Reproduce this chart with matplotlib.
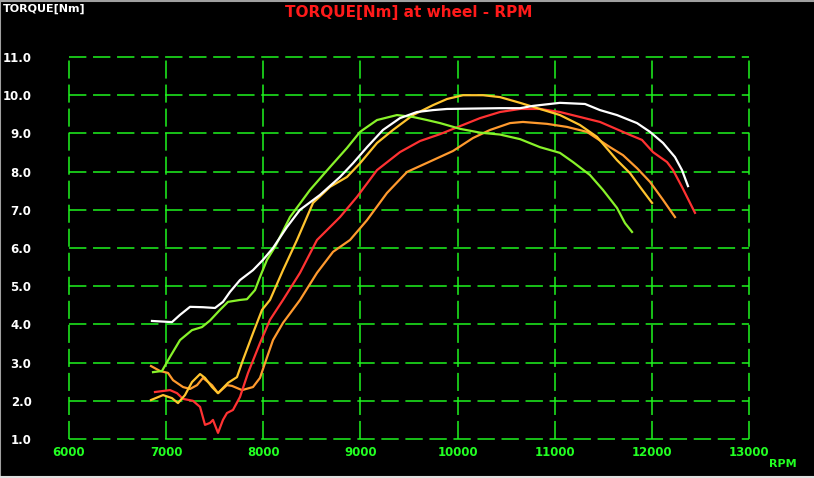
import matplotlib
matplotlib.use("Agg")
import matplotlib.pyplot as plt
from matplotlib.lines import Line2D

# Data (rpm, torque at wheel in Nm)
white_rpm = [6854, 7060, 7143, 7246, 7379, 7503, 7585, 7657, 7760, 7894, 7997, 8100, 8244, 8378,
             8584, 8790, 8924, 9068, 9232, 9407, 9582, 9747, 9891, 10437, 10643, 10776, 11054,
             11312, 11466, 11641, 11847, 11981, 12115, 12238, 12310, 12372]
white_tq = [4.09, 4.06, 4.25, 4.46, 4.45, 4.43, 4.59, 4.85, 5.16, 5.42, 5.69, 6.0, 6.55, 7.0,
            7.39, 7.86, 8.22, 8.64, 9.09, 9.4, 9.56, 9.61, 9.64, 9.66, 9.66, 9.72, 9.8,
            9.77, 9.61, 9.48, 9.27, 9.04, 8.75, 8.38, 8.04, 7.62]

green_rpm = [6865, 6957, 7040, 7143, 7266, 7369, 7451, 7554, 7637, 7760, 7832, 7915, 7966, 8038,
             8121, 8275, 8481, 8687, 8862, 8996, 9171, 9376, 9541, 9685, 9819, 10025, 10231,
             10437, 10643, 10848, 11054, 11188, 11363, 11497, 11641, 11724, 11796]
green_tq = [2.75, 2.78, 3.15, 3.59, 3.85, 3.93, 4.1, 4.38, 4.59, 4.64, 4.66, 4.9, 5.24, 5.69,
            6.03, 6.81, 7.52, 8.12, 8.62, 9.04, 9.35, 9.48, 9.43, 9.35, 9.27, 9.12, 9.02,
            8.97, 8.85, 8.64, 8.49, 8.25, 7.91, 7.52, 7.05, 6.65, 6.42]

yellow_rpm = [6844, 6968, 7060, 7122, 7194, 7266, 7349, 7400, 7472, 7534, 7637, 7729, 7791, 7894,
              7987, 8069, 8203, 8347, 8512, 8687, 8862, 8996, 9171, 9335, 9541, 9747, 9891,
              10056, 10262, 10437, 10643, 10848, 11054, 11260, 11435, 11641, 11775, 11878, 12002]
yellow_tq = [2.02, 2.15, 2.07, 1.94, 2.15, 2.49, 2.7, 2.6, 2.36, 2.2, 2.47, 2.62, 3.07, 3.77,
             4.38, 4.64, 5.42, 6.21, 7.18, 7.6, 7.86, 8.22, 8.75, 9.09, 9.48, 9.74, 9.9,
             10.0, 10.0, 9.95, 9.8, 9.64, 9.48, 9.22, 8.91, 8.3, 7.96, 7.6, 7.18]

red_rpm = [6885, 7040, 7112, 7174, 7276, 7349, 7400, 7451, 7482, 7534, 7585, 7626, 7688, 7760,
           7843, 7966, 8069, 8203, 8378, 8553, 8790, 8965, 9171, 9407, 9613, 9819, 10025,
           10231, 10437, 10643, 10848, 11054, 11260, 11466, 11775, 11898, 12012, 12156, 12218,
           12310, 12444]
red_tq = [2.23, 2.28, 2.2, 2.05, 2.0, 1.84, 1.37, 1.42, 1.5, 1.16, 1.5, 1.68, 1.76, 2.1,
          2.73, 3.51, 4.12, 4.64, 5.35, 6.21, 6.81, 7.34, 8.04, 8.51, 8.8, 8.98, 9.19,
          9.4, 9.56, 9.64, 9.64, 9.56, 9.43, 9.3, 8.96, 8.83, 8.51, 8.25, 8.04,
          7.6, 6.92]

orange_rpm = [6844, 6937, 7019, 7071, 7174, 7246, 7318, 7379, 7472, 7534, 7626, 7678, 7781, 7894,
              7966, 8018, 8100, 8203, 8378, 8553, 8718, 8893, 9068, 9273, 9479, 9747, 9953,
              10159, 10334, 10540, 10673, 10920, 11126, 11332, 11569, 11703, 11847, 11981,
              12115, 12238]
orange_tq = [2.91, 2.78, 2.73, 2.54, 2.36, 2.31, 2.41, 2.6, 2.41, 2.2, 2.41, 2.39, 2.28, 2.36,
             2.6, 2.99, 3.59, 4.04, 4.64, 5.35, 5.9, 6.21, 6.73, 7.44, 7.99, 8.3, 8.54,
             8.88, 9.09, 9.27, 9.3, 9.25, 9.17, 9.04, 8.64, 8.43, 8.09, 7.73,
             7.26, 6.81]

x_ticks = [6000, 7000, 8000, 9000, 10000, 11000, 12000, 13000]
y_ticks = [1, 2, 3, 4, 5, 6, 7, 8, 9, 10, 11]

grid_col = "#1ff51f"
plt.rcParams["lines.scale_dashes"] = False

fig = plt.figure(figsize=(8.14, 4.78), dpi=100, facecolor="black")
ax = fig.add_axes([69 / 814, 1 - 439 / 478, 680 / 814, 382 / 478])
ax.set_facecolor("black")
ax.set_xlim(6000, 13000)
ax.set_ylim(1, 11)
for s in ax.spines.values():
    s.set_visible(False)

# dashed grid, including the frame lines
for y in y_ticks:
    ax.axhline(y, color=grid_col, lw=1.1, dashes=(12.5, 4.8), clip_on=False, zorder=1)
for x in x_ticks:
    ax.axvline(x, color=grid_col, lw=1.1, dashes=(13, 4.3), clip_on=False, zorder=1)

ax.plot(orange_rpm, orange_tq, color="#ff9a2e", lw=1.6, zorder=3)
ax.plot(red_rpm, red_tq, color="#ff3232", lw=1.6, zorder=3)
ax.plot(yellow_rpm, yellow_tq, color="#ffc42e", lw=1.6, zorder=3)
ax.plot(green_rpm, green_tq, color="#88f22a", lw=1.6, zorder=3)
ax.plot(white_rpm, white_tq, color="white", lw=1.6, zorder=3)

ax.set_xticks(x_ticks)
ax.set_xticklabels([str(v) for v in x_ticks])
ax.set_yticks(y_ticks)
ax.set_yticklabels(["%.1f" % v for v in y_ticks])
ax.tick_params(axis="x", length=0, pad=5, colors="#22ff22", labelsize=8.5)
ax.tick_params(axis="y", length=0, pad=27, colors="white", labelsize=8.5)
for lab in ax.get_xticklabels() + ax.get_yticklabels():
    lab.set_fontweight("bold")

fig.text(3 / 814, 1 - 9 / 478, "TORQUE[Nm]", color="white", fontsize=8,
         fontweight="bold", va="center", ha="left")
fig.text(409 / 814, 1 - 12 / 478, "TORQUE[Nm] at wheel - RPM", color="#ff1a1a",
         fontsize=11, fontweight="bold", va="center", ha="center")
fig.text(783 / 814, 1 - 464 / 478, "RPM", color="#22ff22", fontsize=8,
         fontweight="bold", va="center", ha="center")

# window border
fig.add_artist(Line2D([0, 1], [0.998, 0.998], color="#a0a0a0", lw=1.5, transform=fig.transFigure))
fig.add_artist(Line2D([0.0006, 0.0006], [0, 1], color="#a0a0a0", lw=1.5, transform=fig.transFigure))
fig.add_artist(Line2D([0, 1], [0.002, 0.002], color="#e0e0e0", lw=1.5, transform=fig.transFigure))

fig.savefig("out.png", dpi=100, facecolor="black")
